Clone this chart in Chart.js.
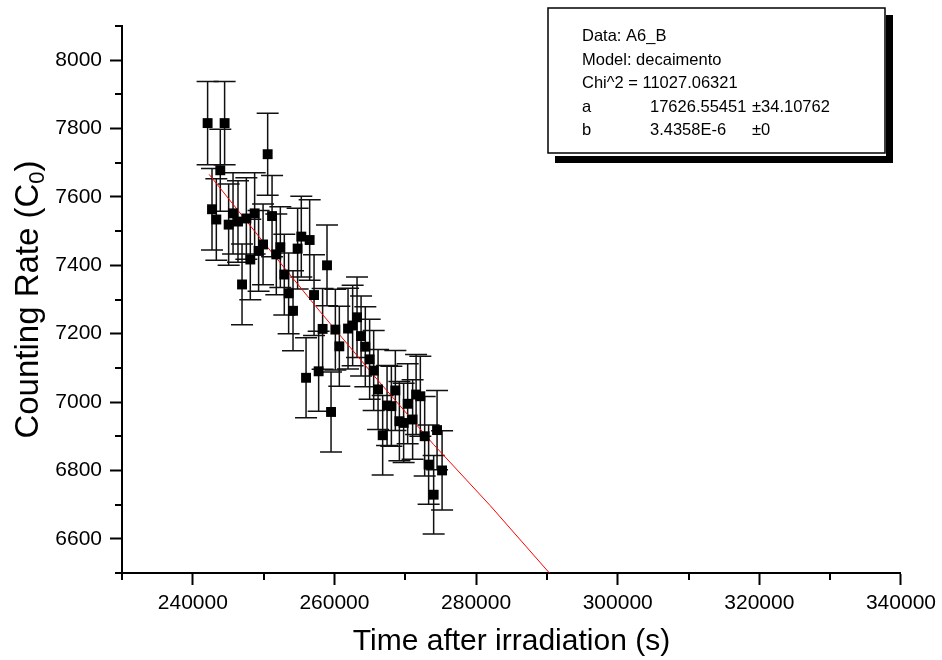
<!DOCTYPE html>
<html>
<head>
<meta charset="utf-8">
<script src="https://cdn.jsdelivr.net/npm/chart.js@4.4.1/dist/chart.umd.min.js"></script>
<style>
  html, body { margin: 0; padding: 0; background: #fff; }
  #wrap { width: 942px; height: 660px; }
</style>
</head>
<body>
<div id="wrap"><canvas id="chart" width="942" height="660"></canvas></div>
<script>
// Measured counting rates (time in s, rate, error)
const times = [242090, 242710, 243320, 243880, 244490, 245060, 245680, 246380, 246950, 247560,
               248120, 248730, 249290, 249920, 250570, 251190, 251790, 252360, 252920, 253530,
               254150, 254800, 255320, 255990, 256500, 257120, 257770, 258330, 258950, 259520,
               260130, 260690, 261920, 262570, 263190, 263760, 264360, 264970, 265540, 266160,
               266810, 267430, 268040, 268600, 269170, 269770, 270340, 271040, 271530, 272130,
               272740, 273300, 274010, 274490, 275200];
const rates = [7816, 7564, 7534, 7678, 7816, 7519, 7552, 7528, 7344, 7537,
               7417, 7552, 7442, 7461, 7725, 7544, 7432, 7453, 7373, 7318,
               7267, 7449, 7484, 7071, 7474, 7313, 7090, 7214, 7400, 6971,
               7212, 7163, 7215, 7224, 7248, 7193, 7162, 7125, 7092, 7037,
               6903, 6990, 6988, 7034, 6944, 6939, 6995, 6949, 7022, 7017,
               6900, 6817, 6729, 6918, 6800];
const rateErrors = [122, 119, 119, 120, 122, 119, 119, 119, 118, 119,
                    118, 119, 118, 118, 120, 119, 118, 118, 118, 118,
                    117, 118, 118, 117, 118, 118, 117, 118, 118, 117,
                    118, 117, 118, 118, 118, 117, 117, 117, 117, 117,
                    116, 117, 117, 117, 116, 116, 117, 116, 117, 117,
                    116, 116, 115, 116, 116];

// Fitted decay curve (red line)
const fitTimes = [242300, 250000, 258000, 266000, 274000, 282000, 290355];
const fitRates = [7666, 7467, 7264, 7067, 6876, 6697, 6500];

// Fit report box
const fitHeader = ['Data: A6_B', 'Model: decaimento', 'Chi^2 = 11027.06321'];
const paramNames = ['a', 'b'];
const paramValues = ['17626.55451', '3.4358E-6'];
const paramErrors = ['\u00b134.10762', '\u00b10'];

const fontFamily = '"Liberation Sans", Arial, sans-serif';
Chart.defaults.font.family = fontFamily;
Chart.defaults.color = '#000';

// vertical error bars with caps
const errorBars = {
    id: 'errorBars',
    beforeDatasetsDraw(chart) {
        const {ctx, scales: {x, y}} = chart;
        ctx.save();
        ctx.strokeStyle = '#111';
        ctx.lineWidth = 1.5;
        times.forEach((t, i) => {
            const px = x.getPixelForValue(t);
            const top = y.getPixelForValue(rates[i] + rateErrors[i]);
            const bot = y.getPixelForValue(rates[i] - rateErrors[i]);
            ctx.beginPath();
            ctx.moveTo(px, top); ctx.lineTo(px, bot);
            ctx.moveTo(px - 11, top); ctx.lineTo(px + 11, top);
            ctx.moveTo(px - 11, bot); ctx.lineTo(px + 11, bot);
            ctx.stroke();
        });
        ctx.restore();
    }
};

// short unlabelled ticks
const minorTicks = {
    id: 'minorTicks',
    afterDraw(chart) {
        const {ctx, scales: {x, y}} = chart;
        ctx.save();
        ctx.strokeStyle = '#000';
        ctx.lineWidth = 2;
        x.ticks.forEach(t => {
            if (t.value % 20000 !== 0) {
                const px = Math.round(x.getPixelForValue(t.value));
                ctx.beginPath(); ctx.moveTo(px, x.top); ctx.lineTo(px, x.top + 7); ctx.stroke();
            }
        });
        y.ticks.forEach(t => {
            if (t.value % 200 !== 0) {
                const py = Math.round(y.getPixelForValue(t.value));
                ctx.beginPath(); ctx.moveTo(y.right, py); ctx.lineTo(y.right - 7, py); ctx.stroke();
            }
        });
        ctx.restore();
    }
};

// y axis title with subscript
const yTitle = {
    id: 'yTitle',
    afterDraw(chart) {
        const ctx = chart.ctx;
        const area = chart.chartArea;
        const parts = [['Counting Rate (C', '33px ' + fontFamily, 0],
                       ['0', '22px ' + fontFamily, 9],
                       [')', '33px ' + fontFamily, 0]];
        ctx.save();
        ctx.translate(29, (area.top + area.bottom) / 2);
        ctx.rotate(-Math.PI / 2);
        ctx.fillStyle = '#000';
        ctx.textBaseline = 'middle';
        ctx.textAlign = 'left';
        let total = 0;
        parts.forEach(p => { ctx.font = p[1]; total += ctx.measureText(p[0]).width; });
        let cx = -total / 2;
        parts.forEach(p => {
            ctx.font = p[1];
            ctx.fillText(p[0], cx, p[2]);
            cx += ctx.measureText(p[0]).width;
        });
        ctx.restore();
    }
};

// fit parameters box with shadow
const fitBox = {
    id: 'fitBox',
    afterDraw(chart) {
        const ctx = chart.ctx;
        ctx.save();
        ctx.fillStyle = '#000';
        ctx.fillRect(886, 15, 7, 148);
        ctx.fillRect(555, 156, 338, 7);
        ctx.fillStyle = '#fff';
        ctx.fillRect(548, 8, 337, 145);
        ctx.strokeStyle = '#000';
        ctx.lineWidth = 1.5;
        ctx.strokeRect(548, 8, 337, 145);
        ctx.font = '16.5px ' + fontFamily;
        ctx.textBaseline = 'alphabetic';
        ctx.textAlign = 'left';
        ctx.fillStyle = '#000';
        const baselines = [40.5, 64.5, 88, 111.5, 135];
        fitHeader.forEach((s, i) => ctx.fillText(s, 582, baselines[i]));
        paramNames.forEach((s, i) => {
            const by = baselines[3 + i];
            ctx.fillText(s, 582, by);
            ctx.fillText(paramValues[i], 650, by);
            ctx.fillText(paramErrors[i], 752, by);
        });
        ctx.restore();
    }
};

const points = times.map((t, i) => ({x: t, y: rates[i]}));
const fitLine = fitTimes.map((t, i) => ({x: t, y: fitRates[i]}));

new Chart(document.getElementById('chart'), {
    type: 'scatter',
    data: {
        datasets: [{
            label: 'A6_B',
            data: points,
            pointStyle: 'rect',
            pointRadius: 7,
            pointHoverRadius: 7,
            backgroundColor: '#000',
            borderColor: '#000',
            borderWidth: 0
        }, {
            label: 'fit',
            data: fitLine,
            showLine: true,
            borderColor: '#ff0000',
            borderWidth: 1,
            pointRadius: 0,
            tension: 0
        }]
    },
    options: {
        responsive: false,
        animation: false,
        events: [],
        layout: {padding: {top: 26, right: 41, left: 0, bottom: 0}},
        plugins: {legend: {display: false}, tooltip: {enabled: false}},
        scales: {
            x: {
                type: 'linear',
                min: 230000,
                max: 340000,
                afterFit: scale => { scale.height = 87; },
                ticks: {
                    stepSize: 10000,
                    autoSkip: false,
                    maxRotation: 0,
                    padding: 6,
                    font: {size: 21},
                    callback: v => (v % 20000 === 0 ? String(v) : '')
                },
                grid: {
                    drawOnChartArea: false,
                    tickLength: 12,
                    tickWidth: 2,
                    tickColor: c => (c.tick && c.tick.value % 20000 === 0 ? '#000' : 'rgba(0,0,0,0)')
                },
                border: {color: '#000', width: 2},
                title: {
                    display: true,
                    text: 'Time after irradiation (s)',
                    font: {size: 30},
                    padding: {top: 0, bottom: 0}
                }
            },
            y: {
                type: 'linear',
                min: 6500,
                max: 8100,
                afterFit: scale => { scale.width = 122; },
                ticks: {
                    stepSize: 100,
                    autoSkip: false,
                    padding: 8,
                    font: {size: 21},
                    callback: v => (v % 200 === 0 ? String(v) : '')
                },
                grid: {
                    drawOnChartArea: false,
                    tickLength: 12,
                    tickWidth: 2,
                    tickColor: c => (c.tick && c.tick.value % 200 === 0 ? '#000' : 'rgba(0,0,0,0)')
                },
                border: {color: '#000', width: 2}
            }
        }
    },
    plugins: [errorBars, minorTicks, yTitle, fitBox]
});
</script>
</body>
</html>
